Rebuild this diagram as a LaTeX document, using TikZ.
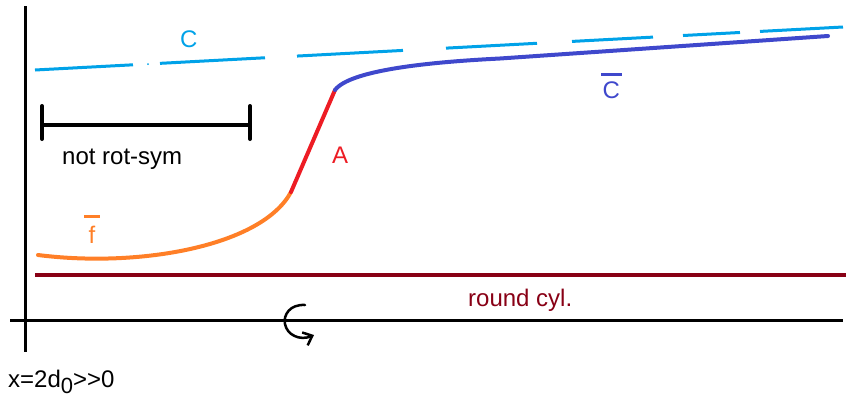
\documentclass[tikz,border=0pt]{standalone}
\usepackage{fontspec}
\setmainfont[Ligatures=NoCommon]{Liberation Sans}
\usetikzlibrary{arrows.meta}
\definecolor{cturq}{HTML}{00A2E8}
\definecolor{cind}{HTML}{3F48CC}
\definecolor{cora}{HTML}{FF7F27}
\definecolor{cred}{HTML}{ED1C24}
\definecolor{cdred}{HTML}{880015}
\newcommand\ovl[3]{\ooalign{\hfil#1\hfil\cr\hfil\rule[#2]{#3}{0.1em}\hfil}}
\begin{document}
\begin{tikzpicture}[x=1pt,y=-1pt,
  lbl/.style={inner sep=0pt, font=\fontsize{24}{28}\selectfont},
  axisline/.style={line width=3pt, black},
  curve/.style={line width=4pt, line cap=round},
  dashseg/.style={line width=3pt, cturq}]
\useasboundingbox (0,0) rectangle (846,397);
% axes
\coordinate (vtop) at (25,6);
\coordinate (vbot) at (25,352);
\coordinate (hl) at (10,320);
\coordinate (hr) at (843,320);
\draw[axisline] (vtop) -- (vbot);
\draw[axisline] (hl) -- (hr);
% round cylinder line
\coordinate (cyl1) at (35,275);
\coordinate (cyl2) at (846,275);
\draw[curve, cdred, line cap=butt] (cyl1) -- (cyl2);
\node[lbl, anchor=base west, text=cdred] (cyl) at (468,306) {round cyl.};
% dashed C line
\foreach \a/\b/\c/\d in {35/70/133/64.8, 160/63.35/265/57.76, 297/56.06/403/50.41,
  446/48.13/537/43.28, 572/41.42/653/37.11, 683/35.51/740/32.48, 760/31.42/843/27}
  {\draw[dashseg] (\a,\b) -- (\c,\d);}
\fill[cturq] (148,64) circle (1pt);
\node[lbl, anchor=base west, text=cturq] (C) at (180,47) {C};
% profile
\coordinate (f0) at (38,255);
\coordinate (fa) at (291,192);
\coordinate (ab) at (335,90);
\coordinate (b1) at (500,58.5);
\coordinate (b2) at (828,36);
\draw[curve, cora] (f0) .. controls (140,268) and (262,246) .. (fa);
\draw[curve, cred] (fa) -- (ab);
\draw[curve, cind] (ab) .. controls (350,70) and (430,62) .. (b1) -- (b2);
\node[lbl, anchor=base west, text=cred] (A) at (332,163) {A};
\node[lbl, anchor=base west, text=cind] (Cb) at (601,98) {\ovl{C}{0.93em}{0.85em}};
\node[lbl, anchor=base west, text=cora] (fb) at (84,243) {\ovl{f}{1.05em}{0.65em}};
% not rot-sym bar
\coordinate (nl) at (42,125);
\coordinate (nr) at (250,125);
\draw[line width=4pt] (nl) -- (nr);
\draw[line width=4pt, line cap=round] ([yshift=-14pt]nl) -- ([yshift=19pt]nl);
\draw[line width=4pt, line cap=round] ([yshift=-14pt]nr) -- ([yshift=19pt]nr);
\node[lbl, anchor=base west] (nrs) at (62,164) {not rot-sym};
% rotation arrow
\coordinate (r0) at (305,305);
\coordinate (r1) at (314,335);
\draw[line width=2.5pt, line cap=round, -{Straight Barb[length=8pt,width=14pt]}]
  (r0) .. controls (290,304) and (283,315) .. (285,324)
  .. controls (287,335) and (300,341) .. (r1);
% x label
\node[lbl, anchor=base west] (xl) at (8,387) {x=2d\raisebox{-6.5pt}{\fontsize{22}{24}\selectfont 0}{>}{>}0};
\end{tikzpicture}
\end{document}
